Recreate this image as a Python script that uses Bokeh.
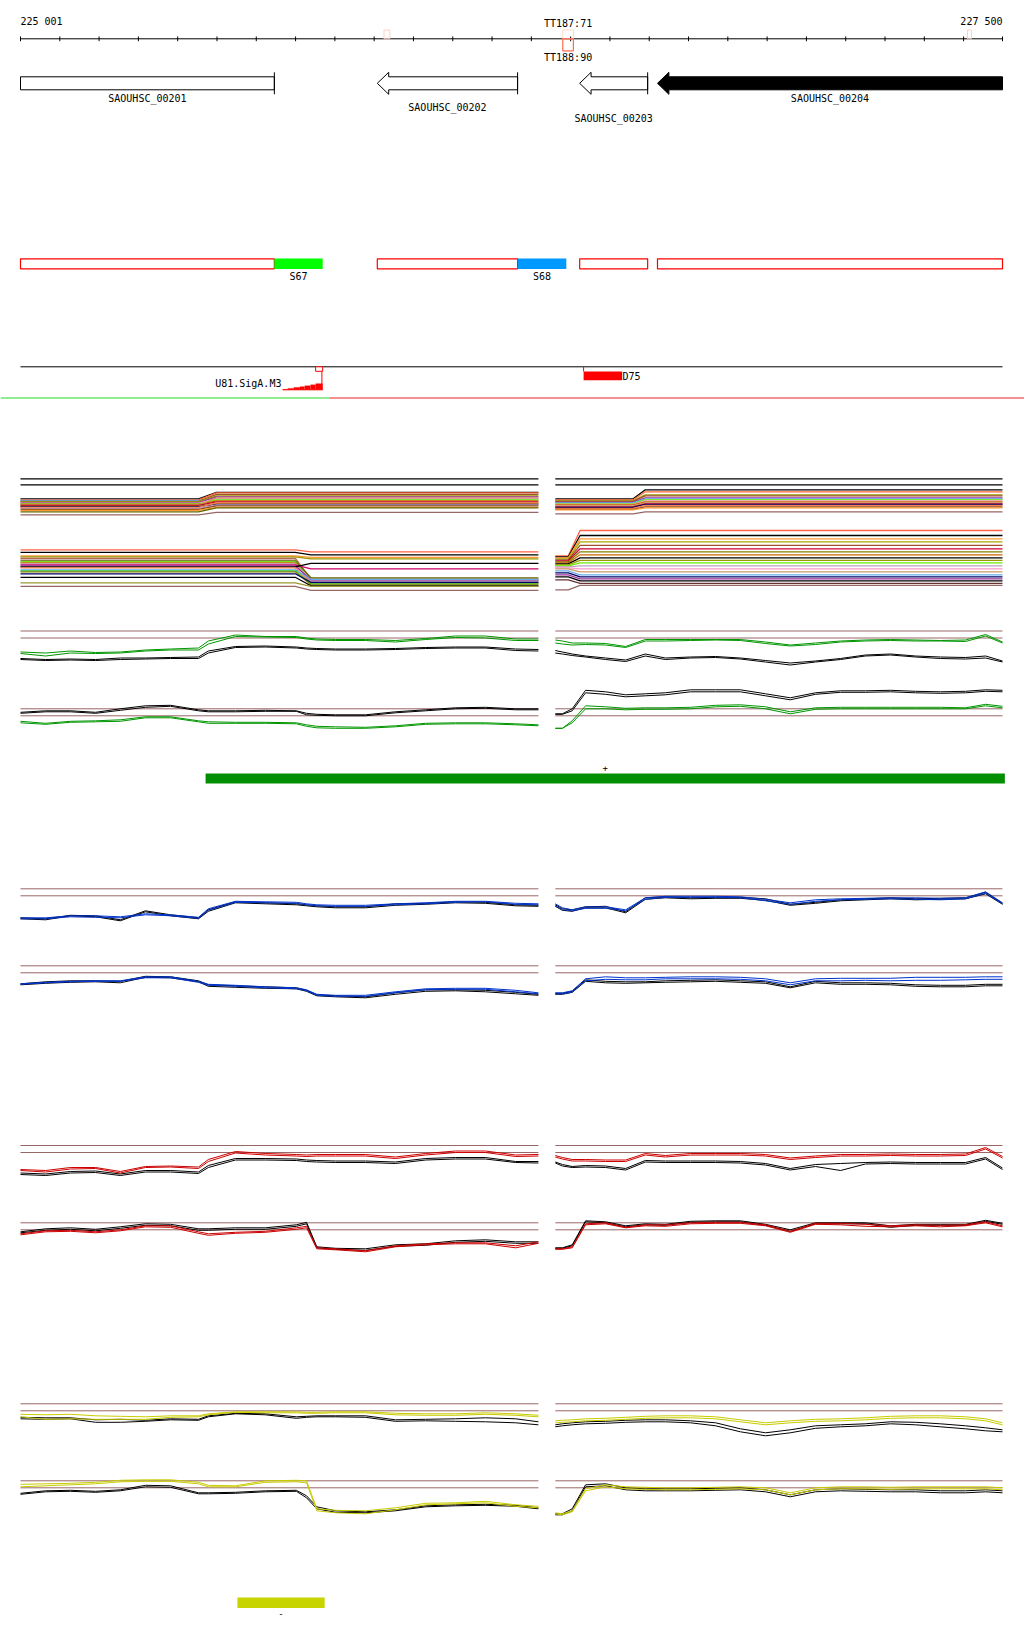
from bokeh.plotting import figure
from bokeh.models import Range1d
from bokeh.embed import file_html
from bokeh.resources import INLINE
from bokeh.core.properties import value

# ---------------------------------------------------------------- data
REGION_START = 225001
REGION_END = 227500
TICK_STEP = 100
RULER_LABELS = ["225 001", "227 500"]

TERM_NAMES = ["TT187:71", "TT188:90"]
TERM_START = 226381
TERM_END = 226408
FAINT_MARK_START = [225926, 227411]
FAINT_MARK_END = [225941, 227421]

GENE_NAMES = ["SAOUHSC_00201", "SAOUHSC_00202", "SAOUHSC_00203", "SAOUHSC_00204"]
GENE_START = [225001, 225909, 226424, 226622]
GENE_END = [225647, 226266, 226597, 227500]
GENE_STRAND = ["+", "-", "-", "-"]
GENE_FILLED = [False, False, False, True]

SEG_START = [225001, 225909, 226424, 226622]
SEG_END = [225647, 226266, 226597, 227500]
SIG_NAMES = ["S67", "S68"]
SIG_START = [225647, 226266]
SIG_END = [225770, 226390]

PROM_NAME = "U81.SigA.M3"
PROM_EDGES = [225668, 225681, 225696, 225712, 225724, 225739, 225752, 225770]
PROM_SCORE = [0.7, 1.5, 2.5, 3.3, 4.2, 5.2, 6.3]
PROM_SITE = 225768

TERM2_NAME = "D75"
TERM2_START = 226434
TERM2_END = 226532

STRAND_SWITCH = 225787
TU_PLUS = [225472, 227506]
TU_MINUS = [225553, 225775]

LEFT_PROBES = [225001, 225065, 225128, 225192, 225255, 225319, 225383, 225454,
               225479, 225548, 225624, 225703, 225729, 225755, 225803, 225879,
               225955, 226032, 226108, 226184, 226261, 226319]
RIGHT_PROBES = [226362, 226380, 226405, 226439, 226490, 226541, 226591, 226642,
                226706, 226770, 226833, 226897, 226960, 227024, 227088, 227151,
                227215, 227279, 227342, 227406, 227457, 227500]

# profile values (distance below the upper threshold line)
G1L_C1 = [21, 22, 20, 21.5, 21, 19, 18, 17, 10, 4, 5.5, 5.5, 7, 8, 8.5, 8.5, 9.5, 7.5, 5, 5, 8, 8]
G1L_C2 = [22.5, 25, 22, 22.5, 22, 20, 19, 19, 13, 5.5, 6, 6.5, 8, 9, 9.5, 9.5, 11, 8.5, 6.5, 7, 9.5, 9.5]
G1L_K1 = [27.5, 28.5, 28, 28.5, 27, 27, 26.5, 26, 20, 15.5, 15, 16, 17, 17.5, 18, 18, 17.5, 16.5, 16, 16, 18, 18.5]
G1L_K2 = [28.5, 29.5, 29, 29.5, 28.5, 28, 27.5, 27.5, 22, 16.5, 16, 17, 18, 18.5, 19, 19, 18.5, 17.5, 17, 17, 19.5, 20]
G1R_C1 = [9, 10, 12, 12, 12.5, 15.5, 8.5, 8.5, 8.5, 8.5, 8.5, 11, 14, 12, 10, 9, 8.5, 9, 9.5, 9, 3.5, 11]
G1R_C2 = [12, 13, 14, 13.5, 14, 16.5, 10, 10, 9.5, 9, 9.5, 12.5, 15, 13.5, 11, 10, 9.5, 10, 10, 10.5, 5, 12]
G1R_K1 = [19.5, 21, 23, 25, 27, 29, 23, 27, 26, 25.5, 27, 29.5, 32, 30, 27.5, 24, 23, 25, 26, 26.5, 25, 30]
G1R_K2 = [22, 23, 24.5, 26, 28.5, 30.5, 25, 28.5, 27, 26.5, 28, 31, 34, 31, 28.5, 25, 24, 26, 27.5, 28, 27, 31]

G2L_C1 = [12.5, 14.5, 12.5, 12, 11, 8, 8, 12, 13, 13.5, 13.5, 14, 16, 17.5, 18, 18.5, 17, 14.5, 14, 14, 15, 16]
G2L_C2 = [14, 15.5, 13.5, 13, 12.5, 9, 9, 13, 14.5, 14.5, 14.5, 15, 17.5, 19, 19.5, 19.5, 18, 15.5, 15, 15, 16, 17]
G2L_K1 = [3.5, 2, 2, 3.5, 0, -3, -3.5, 1, 2, 2, 1.5, 2, 4.5, 5.5, 6, 6, 3, 1, -1, -1.5, 0, 0]
G2L_K2 = [4.5, 3, 3, 4.5, 1.5, -1.5, -2.5, 2, 3, 3, 2.5, 2.5, 6, 6.5, 7, 7, 4, 2, 0, -0.5, 1, 1]
G2R_C1 = [19.5, 19.5, 12, -3, -2, -0.5, -1, -1, -1.5, -3.5, -4, -2, 3, -1, -1.5, -1.5, -1.5, -1.5, -1.5, -1, -4.5, -2.5]
G2R_C2 = [19.5, 19.5, 14, 0, 0, 1, 0.5, 0.5, 0, -2, -2.5, 0, 5, 0.5, 0, 0, 0, 0, 0, 0, -3, -1]
G2R_K1 = [5, 5, 0, -18.5, -17, -14, -15, -16, -19, -19, -19, -15, -11, -16, -18, -18, -18.5, -17.5, -17, -17.5, -19, -18.5]
G2R_K2 = [5.5, 5.5, 2, -16, -14.5, -12, -13, -14, -17, -17, -17, -13, -9, -14.5, -16.5, -16.5, -17, -16, -15.5, -16, -17.5, -17]

B1L_C1 = [29, 29, 27, 27, 28, 25, 26, 28.5, 20, 12.5, 13, 13.5, 15, 16, 16.5, 16.5, 15, 14, 12.5, 12.5, 14.5, 15]
B1L_C2 = [30, 30, 28, 28.5, 29, 26, 27, 29.5, 21.5, 13.5, 14, 14.5, 16, 17, 17.5, 17.5, 16, 15, 13.5, 13, 15.5, 16]
B1L_K1 = [29, 30, 26.5, 27, 31, 22, 26, 29, 21, 13, 14, 15, 16, 17, 18, 18, 15, 14.5, 13, 13.5, 16, 16.5]
B1L_K2 = [30, 31, 27, 28, 32, 23, 27, 30, 22.5, 14, 15, 16, 17, 18, 19, 19, 16.5, 15.5, 14, 14.5, 17, 17.5]
B1R_C1 = [15, 19, 21, 18, 18, 21, 9, 7.5, 7.5, 7.5, 8, 10.5, 14, 11, 10, 9.5, 9, 9, 9.5, 9, 3, 14]
B1R_C2 = [17, 21, 22, 19.5, 19.5, 22, 10.5, 8.5, 8.5, 8.5, 9, 12, 15.5, 12.5, 11, 10.5, 10, 10.5, 11, 10, 4.5, 15]
B1R_K1 = [16, 20, 21, 18, 17.5, 23, 9, 8, 9, 8.5, 8.5, 10, 15.5, 13.5, 11, 10, 9, 10, 9.5, 9, 3.5, 14.5]
B1R_K2 = [17.5, 21.5, 22.5, 19, 19, 24, 10.5, 9, 10, 9.5, 9.5, 11.5, 16.5, 14.5, 12, 11, 10, 11, 10.5, 10, 5, 15.5]

B2L_C1 = [18, 16.5, 15.5, 15, 15, 11, 11, 15.5, 18.5, 19.5, 21, 22, 24, 28.5, 29.5, 29.5, 26, 23, 22.5, 22.5, 24.5, 27]
B2L_C2 = [18.5, 17, 16, 15.5, 15.5, 12, 12, 16.5, 19.5, 20.5, 22, 23, 25, 29.5, 30.5, 30.5, 27, 24, 23.5, 23.5, 26, 28]
B2L_K1 = [18, 16, 15, 15, 15.5, 10.5, 11, 15, 19, 20, 21, 22, 24.5, 29, 30, 31, 27, 24, 24, 24.5, 26.5, 28.5]
B2L_K2 = [19, 17.5, 16.5, 16, 17, 11.5, 12, 16, 20.5, 21.5, 22.5, 23, 25.5, 30, 31, 32, 28.5, 25.5, 25, 26, 28, 29.5]
B2R_C1 = [27, 27, 25, 13, 11, 12, 12, 11.5, 11, 11, 11.5, 13, 17, 13, 12.5, 12.5, 12.5, 11.5, 11.5, 11.5, 11, 11]
B2R_C2 = [28, 28, 26.5, 15, 13.5, 14, 14, 13, 13, 13, 13.5, 15, 19, 15, 15, 14.5, 15, 14.5, 14.5, 14, 13.5, 13.5]
B2R_K1 = [27.5, 27.5, 25.5, 14, 15.5, 16, 16, 15, 14.5, 14, 15, 16, 21, 15.5, 17, 17, 17.5, 19, 19.5, 19.5, 18.5, 18.5]
B2R_K2 = [28.5, 28.5, 26.5, 15.5, 17, 17.5, 17, 16.5, 16, 15.5, 16.5, 17.5, 22, 17, 18.5, 18.5, 19, 20.5, 21, 21, 20, 20]

R1L_C1 = [24, 25, 22, 22, 26, 21, 20.5, 21.5, 14, 6, 8, 9, 9.5, 9, 9, 9, 11.5, 8, 5.5, 5.5, 9.5, 9]
R1L_C2 = [25, 26.5, 23.5, 23, 27.5, 22, 21.5, 23, 16, 7.5, 9.5, 10.5, 11, 10.5, 10.5, 10.5, 13, 9.5, 7, 7, 11, 10.5]
R1L_K1 = [27.5, 28.5, 26, 25.5, 28.5, 25, 25, 26.5, 20, 13, 13, 13.5, 14.5, 15, 15.5, 15.5, 16.5, 13, 12, 12, 16, 16]
R1L_K2 = [29, 30, 27.5, 27, 30, 26.5, 26.5, 28, 22, 14.5, 14.5, 15, 16, 16.5, 17, 17, 18, 14.5, 13.5, 13.5, 17, 17.5]
R1R_C1 = [10, 12, 14, 14, 14.5, 14.5, 8, 10, 8, 8, 8, 9, 12.5, 10.5, 9, 9, 8.5, 9, 9, 8.5, 2, 11]
R1R_C2 = [11.5, 13.5, 15.5, 15.5, 16, 16, 9.5, 11.5, 9.5, 9.5, 9.5, 10.5, 14, 12, 10.5, 10.5, 10, 10.5, 10.5, 10, 3.5, 12.5]
R1R_K1 = [16.5, 19, 21, 20, 20.5, 23, 15, 15.5, 15.5, 15.5, 16, 18, 23, 19, 18, 17, 16.5, 17, 17, 17, 12, 22.5]
R1R_K2 = [17.5, 20.5, 22, 21.5, 22, 24.5, 16.5, 17, 17, 17, 17.5, 19.5, 24.5, 21, 25, 18.5, 18, 18.5, 18.5, 18.5, 13.5, 24]

R2L_C1 = [11, 8, 7.5, 9, 7, 3, 3, 9, 11, 9.5, 8.5, 5, 3.5, 25, 26, 28, 23, 21, 20, 20, 23, 19]
R2L_C2 = [12, 9, 8.5, 10, 8, 4, 4.5, 10.5, 12.5, 10.5, 9.5, 6.5, 5, 26, 27, 29, 24, 22, 21, 21, 25, 20.5]
R2L_K1 = [9, 6, 5, 6.5, 4, 1, 1.5, 6, 6, 5, 5, 2, -0.5, 24, 25.5, 26, 22, 21, 18, 17, 19, 19]
R2L_K2 = [10, 7.5, 6.5, 8, 5.5, 2.5, 3, 7.5, 7.5, 6.5, 6.5, 3.5, 1, 25, 26.5, 27.5, 23.5, 22.5, 19.5, 18.5, 20.5, 20.5]
R2R_C1 = [26, 26, 24, 1, 0, 4.5, 2, 2, 0, -0.5, -0.5, 2, 8.5, 0.5, 0.5, 1.5, 3, 2, 2.5, 2, -1, 3]
R2R_C2 = [26.5, 26.5, 25, 2, 1, 5, 3, 3.5, 1, 0.5, 0.5, 3, 9.5, 1.5, 2, 3.5, 4, 3, 4, 3, 0, 4]
R2R_K1 = [25, 25, 22, -2, -1, 3, 1, 1.5, -1.5, -2, -2, 1.5, 7, 0, 0, 0, 3, 1.5, 1.5, 1.5, -2.5, 0.5]
R2R_K2 = [25.5, 25.5, 23, -1, 0, 4, 2, 2.5, -0.5, -1, -1, 2.5, 8.5, 1, 1, 1, 4.5, 2.5, 2.5, 2.5, -1.5, 1.5]

Y1L_C1 = [10.5, 11, 10.5, 12, 12.5, 13, 12, 12, 10, 8, 8, 8, 8.5, 8.5, 8, 8, 9.5, 10, 10, 9, 10, 11.5]
Y1L_C2 = [13, 15.5, 15, 15.5, 15.5, 15.5, 13.5, 13, 11, 8.5, 9, 9, 9.5, 9.5, 9, 9, 11, 11.5, 11.5, 10.5, 11.5, 13]
Y1L_K1 = [13.5, 14, 14, 16, 15.5, 16.5, 15, 15.5, 12, 9.5, 10, 13, 12.5, 12, 12, 12, 16, 15.5, 15, 14, 15, 18]
Y1L_K2 = [15, 15.5, 15, 18.5, 18.5, 17.5, 16, 16.5, 13, 10, 11, 14.5, 13.5, 13, 13, 13.5, 17.5, 17, 17.5, 18, 19, 21]
Y1R_C1 = [17, 16.5, 16, 15, 14.5, 13.5, 12.5, 12, 12, 13, 16, 19, 17, 15.5, 15, 14, 12.5, 12, 12, 13, 15, 19]
Y1R_C2 = [19, 18.5, 18, 17, 16.5, 15.5, 14.5, 14, 14, 15, 18, 21, 19, 17.5, 17, 16, 14.5, 14, 14, 15, 17, 21]
Y1R_K1 = [21, 20, 19, 18, 17.5, 16.5, 16, 16, 17, 19, 25, 29, 26, 22, 21, 20, 18, 18.5, 20, 22, 24, 26]
Y1R_K2 = [23, 22, 21, 20, 19.5, 18.5, 18, 18, 19, 22, 28, 32, 29, 24.5, 23, 22, 20, 21, 23, 25, 27, 28]

Y2L_C1 = [3.5, 3, 2.5, 1.5, -0.5, -1, -1, 1.5, 4.5, 5, 0, -0.5, 0, 28, 29.5, 30, 27, 22.5, 22, 20.5, 24, 25.5]
Y2L_C2 = [6, 5, 4, 3, 1, 0.5, 0.5, 3, 6, 6, 1.5, 1, 2, 30, 32, 33, 29, 24, 23, 22, 25.5, 27]
Y2L_K1 = [12.5, 10, 9.5, 10.5, 9, 4.5, 5, 12, 12, 11.5, 10, 9.5, 15, 26, 30, 31, 29, 25, 24, 23.5, 24.5, 27]
Y2L_K2 = [13.5, 11, 10.5, 11.5, 10, 6, 6.5, 13, 13, 12.5, 11, 10.5, 17, 28, 31.5, 32, 30, 26, 25, 24.5, 25.5, 28]
Y2R_C1 = [32, 33, 30, 8, 4, 6, 6.5, 7, 7, 6.5, 6, 7, 12, 7, 6, 6, 6.5, 6, 6, 6, 6, 7]
Y2R_C2 = [33, 34, 31, 10, 6, 8, 8.5, 9, 9, 8.5, 8, 9, 14, 9, 8, 8, 8.5, 8, 8, 8, 8, 9]
Y2R_K1 = [33, 33, 28, 4, 3, 7, 8, 8, 8, 7.5, 7, 9, 14, 9, 8, 8.5, 9, 9, 10, 10, 9, 10]
Y2R_K2 = [34, 34, 30, 6, 5, 9, 10, 10, 10, 9.5, 9, 11, 16, 11, 10, 10.5, 11, 11, 12, 12, 11, 12]

THRESHOLDS = [0, 7]

# multi-condition bundles: level before and after each switch
BUNDLE_REFS = [0, 6]
L1_STEP = [225454, 225500]
L1_BEFORE = [20, 21, 21.5, 22.5, 23, 24, 24.5, 25, 25.5, 26, 26.5, 27.5, 28, 28.5, 29.5, 30.5, 31.5, 33, 36]
L1_AFTER = [13.5, 14, 20, 15.5, 17, 18, 19.5, 21, 22, 19, 23, 24.5, 25.5, 24, 26, 27, 28.5, 29, 33.5]
L2_STEP = [225700, 225740]
L2_BEFORE = [71, 73.5, 77, 78, 79, 80, 81, 82, 83, 84, 85, 86, 87, 88, 89, 91, 92, 93, 95, 98.5, 104, 107.5]
L2_AFTER = [73, 76, 78.5, 80, 100, 101, 102, 99, 103, 104, 102.5, 90, 101, 84.5, 104.5, 100.5, 105, 106, 103.5, 107, 107.5, 111.5]
R1_STEP = [226560, 226591]
R1_BEFORE = [20, 21, 22, 22.5, 23.5, 24, 25, 25.5, 26, 27, 28, 28.5, 29.5, 30.5, 31, 35]
R1_AFTER = [11, 13, 16, 17, 19, 20, 21, 22, 23, 24, 25, 25.5, 26.5, 28, 29, 33]
R2_STEP = [226395, 226425]
R2_BEFORE = [77, 78, 79, 80, 81, 82, 83, 84, 85, 86, 87, 88, 89, 90, 92, 94, 96, 98, 101, 111]
R2_AFTER = [51.7, 56.7, 60, 63, 66.5, 70, 73, 76, 79, 81.5, 84, 87, 90, 93, 96, 98, 100, 102, 104.5, 106.5]

# ---------------------------------------------------------------- style / layout
FONT = value("DejaVu Sans Mono")
BROWN = "#996666"
L1_COLORS = ["black", "#ff6633", "#66aaee", "#a0522d", "#999900", "#993399", "#ff99cc", "#66ee00", "#cc6600",
             "#cc9966", "#cc0033", "#808000", "#000066", "#ff7f50", "#c0a0c0", "#8b4513", "#ff9933", "#666600", BROWN]
L2_COLORS = ["#ff6347", "black", "#ff9933", "#999900", "#cc9966", "#a0522d", "#d8b8c8", "#666600", "#66ee00",
             "#cc6600", "#c0a0c0", "#cc0066", "#993399", "black", "#ff7f50", "#66aaee", "#33cc33", "#808000",
             "#000066", "black", "#999933", BROWN]
R1_COLORS = ["black", "#ff6633", "#999900", "#a0522d", "#993399", "#66aaee", "#66ee00", "#ff99cc", "#cc6600",
             "#cc9966", "#cc0033", "#000066", "#ff7f50", "#8b4513", "#ff9933", BROWN]
R2_COLORS = ["#ff6347", "black", "#ff9933", "#aaaa00", "#a0522d", "#cc0033", "#808000", "#cc6600", "black",
             "#999900", "#66ee00", "#c0a0c0", "#ff99cc", "#cc9966", "#66aaee", "#000066", "#993399", "black",
             "#663333", BROWN]

W, H = 1024, 1630
BP_PER_PX = (REGION_END - REGION_START) / 982.0
X0 = REGION_START - 20 * BP_PER_PX
X1 = X0 + W * BP_PER_PX

BUNDLE_TOP = 478.3
TRACKS = [
    ("green1", 630.5, "#009600", (G1L_C1, G1L_C2, G1L_K1, G1L_K2), (G1R_C1, G1R_C2, G1R_K1, G1R_K2)),
    ("green2", 708.3, "#009600", (G2L_C1, G2L_C2, G2L_K1, G2L_K2), (G2R_C1, G2R_C2, G2R_K1, G2R_K2)),
    ("blue1", 888.3, "#0033cc", (B1L_C1, B1L_C2, B1L_K1, B1L_K2), (B1R_C1, B1R_C2, B1R_K1, B1R_K2)),
    ("blue2", 965.3, "#0033cc", (B2L_C1, B2L_C2, B2L_K1, B2L_K2), (B2R_C1, B2R_C2, B2R_K1, B2R_K2)),
    ("red1", 1145.0, "#cc0000", (R1L_C1, R1L_C2, R1L_K1, R1L_K2), (R1R_C1, R1R_C2, R1R_K1, R1R_K2)),
    ("red2", 1222.3, "#cc0000", (R2L_C1, R2L_C2, R2L_K1, R2L_K2), (R2R_C1, R2R_C2, R2R_K1, R2R_K2)),
    ("yellow1", 1403.3, "#c8cc00", (Y1L_C1, Y1L_C2, Y1L_K1, Y1L_K2), (Y1R_C1, Y1R_C2, Y1R_K1, Y1R_K2)),
    ("yellow2", 1480.3, "#c8cc00", (Y2L_C1, Y2L_C2, Y2L_K1, Y2L_K2), (Y2R_C1, Y2R_C2, Y2R_K1, Y2R_K2)),
]

p = figure(width=W, height=H, x_range=Range1d(X0, X1), y_range=Range1d(H, 0),
           output_backend="svg", toolbar_location=None, min_border=0,
           x_axis_location=None, y_axis_location=None, outline_line_color=None)
p.grid.visible = False


def band_range(top):
    return Range1d(start=H - top, end=-top)


ranges = {"bundle": band_range(BUNDLE_TOP), "prom": band_range(389.3)}
for name, top, _, _, _ in TRACKS:
    ranges[name] = band_range(top)
p.extra_y_ranges = ranges


def txt(x, y, s, align="center", color="black", size="10px"):
    p.text(x=[x], y=[y], text=[s], text_font=FONT, text_font_size=size,
           text_align=align, text_baseline="middle", text_color=color)


# ---- ruler
ticks = list(range(REGION_START, REGION_END, TICK_STEP)) + [REGION_END]
p.segment(x0=[REGION_START], y0=[38.3], x1=[REGION_END], y1=[38.3], line_color="black", line_width=1)
p.segment(x0=ticks, y0=[36.0] * len(ticks), x1=ticks, y1=[40.7] * len(ticks), line_color="black", line_width=1)
txt(REGION_START, 20.5, RULER_LABELS[0], align="left")
txt(REGION_END, 20.5, RULER_LABELS[1], align="right")
p.quad(left=FAINT_MARK_START, right=FAINT_MARK_END, top=[29.5] * 2, bottom=[38.3] * 2,
       fill_color=None, line_color="#ffcfc4", line_width=1)
p.quad(left=[TERM_START], right=[TERM_END], top=[29.5], bottom=[38.3],
       fill_color=None, line_color="#ffd8c8", line_width=1)
p.quad(left=[TERM_START], right=[TERM_END], top=[38.3], bottom=[50.3],
       fill_color=None, line_color="#ff6a4d", line_width=1.2)
mid_term = (TERM_START + TERM_END) / 2
txt(mid_term, 23.3, TERM_NAMES[0])
txt(mid_term, 57.3, TERM_NAMES[1])

# ---- genes
HEAD = 29
label_rows = [97.7, 106.7, 118.0, 97.7]
for name, s, e, strand, filled, ly in zip(GENE_NAMES, GENE_START, GENE_END, GENE_STRAND, GENE_FILLED, label_rows):
    if strand == "-":
        xs = [s, s + HEAD, s + HEAD, e, e, s + HEAD, s + HEAD]
        ys = [82.8, 71.8, 76.3, 76.3, 89.3, 89.3, 93.8]
    else:
        xs = [s, e, e, s]
        ys = [76.3, 76.3, 89.3, 89.3]
    p.patch(xs, ys, fill_color="black" if filled else "white", line_color="black", line_width=1)
    if not filled:
        p.segment(x0=[e], y0=[71.8], x1=[e], y1=[93.8], line_color="black", line_width=1)
    txt((s + e) / 2, ly, name)

# ---- segmentation row
p.quad(left=SEG_START, right=SEG_END, top=[258.3] * 4, bottom=[268.3] * 4,
       fill_color="white", line_color="#ff0000", line_width=1.2)
p.quad(left=SIG_START, right=SIG_END, top=[258.0] * 2, bottom=[268.6] * 2,
       fill_color=["#00ff00", "#0099ff"], line_color=None)
for n, s, e in zip(SIG_NAMES, SIG_START, SIG_END):
    txt((s + e) / 2, 275.5, n)

# ---- promoter / terminator row
p.segment(x0=[REGION_START], y0=[366.3], x1=[REGION_END], y1=[366.3], line_color="black", line_width=1)
p.quad(left=PROM_EDGES[:-1], right=PROM_EDGES[1:], top=[-v for v in PROM_SCORE],
       bottom=[0] * len(PROM_SCORE), fill_color="red", line_color=None, y_range_name="prom")
p.segment(x0=[PROM_EDGES[0]], y0=[0], x1=[PROM_EDGES[-1]], y1=[0], line_color="red", line_width=1, y_range_name="prom")
p.quad(left=[PROM_EDGES[-1] - 18], right=[PROM_EDGES[-1]], top=[366.3], bottom=[370.8],
       fill_color="white", line_color="red", line_width=1)
p.segment(x0=[PROM_SITE], y0=[370.8], x1=[PROM_SITE], y1=[389.3], line_color="red", line_width=1)
txt(PROM_EDGES[0] - 3, 383.0, PROM_NAME, align="right")
p.segment(x0=[TERM2_START], y0=[366.3], x1=[TERM2_START], y1=[371], line_color="red", line_width=1)
p.quad(left=[TERM2_START], right=[TERM2_END], top=[371], bottom=[379.7], fill_color="red", line_color=None)
txt(TERM2_END + 1, 376.0, TERM2_NAME, align="left")

p.segment(x0=[X0], y0=[397.5], x1=[STRAND_SWITCH], y1=[397.5], line_color="#22dd22", line_width=1.2)
p.segment(x0=[STRAND_SWITCH], y0=[397.5], x1=[X1], y1=[397.5], line_color="#ee2222", line_width=1.2)

# ---- bundles
left_span = [LEFT_PROBES[0], LEFT_PROBES[-1]]
right_span = [RIGHT_PROBES[0], RIGHT_PROBES[-1]]
for span in (left_span, right_span):
    p.multi_line([span, span], [[r, r] for r in BUNDLE_REFS], line_color="black", line_width=1.2,
                 y_range_name="bundle")


def bundle(span, step, before, after, colors):
    xs = [[span[0], step[0], step[1], span[1]] for _ in before]
    ys = [[b, b, a, a] for b, a in zip(before, after)]
    p.multi_line(xs, ys, line_color=colors, line_width=1.3, y_range_name="bundle")


bundle(left_span, L1_STEP, L1_BEFORE, L1_AFTER, L1_COLORS)
bundle(left_span, L2_STEP, L2_BEFORE, L2_AFTER, L2_COLORS)
bundle(right_span, R1_STEP, R1_BEFORE, R1_AFTER, R1_COLORS)
bundle(right_span, R2_STEP, R2_BEFORE, R2_AFTER, R2_COLORS)

# ---- profile tracks
for name, top, color, left, right in TRACKS:
    for span in (left_span, right_span):
        p.multi_line([span, span], [[t, t] for t in THRESHOLDS], line_color=BROWN, line_width=1,
                     y_range_name=name)
    for probes, series in ((LEFT_PROBES, left), (RIGHT_PROBES, right)):
        c1, c2, k1, k2 = series
        p.multi_line([probes, probes], [k1, k2], line_color="black", line_width=1, y_range_name=name)
        p.multi_line([probes, probes], [c1, c2], line_color=color, line_width=1, y_range_name=name)

# ---- transcription units
p.quad(left=[TU_PLUS[0]], right=[TU_PLUS[1]], top=[773], bottom=[783], fill_color="#008f00", line_color=None)
txt((TU_PLUS[0] + TU_PLUS[1]) / 2, 766.5, "+", size="9px")
p.quad(left=[TU_MINUS[0]], right=[TU_MINUS[1]], top=[1597], bottom=[1607.5], fill_color="#c8d400", line_color=None)
txt((TU_MINUS[0] + TU_MINUS[1]) / 2, 1612.5, "-", size="9px")

open("out.html", "w").write(file_html(p, INLINE))
